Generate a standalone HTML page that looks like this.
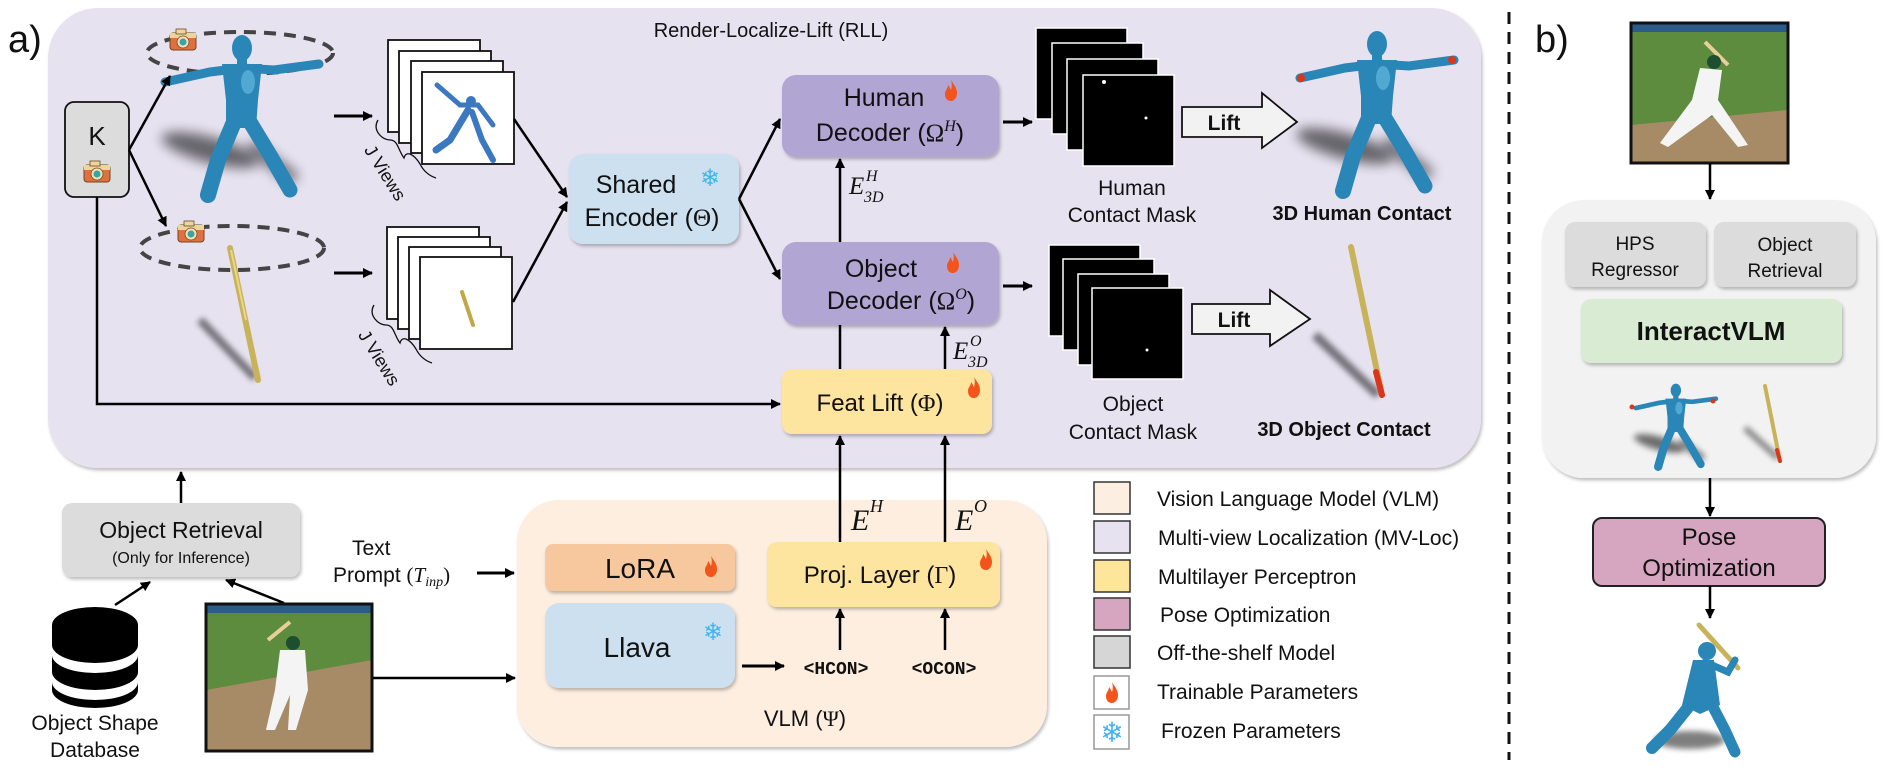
<!DOCTYPE html>
<html><head><meta charset="utf-8"><style>
html,body{margin:0;padding:0;background:#fff;}
svg{display:block;}
text{font-family:"Liberation Sans",sans-serif;fill:#111;}
.m{font-family:"Liberation Serif",serif;font-style:italic;}
.r{font-family:"Liberation Serif",serif;}
</style></head><body>
<svg width="1903" height="770" viewBox="0 0 1903 770" xmlns="http://www.w3.org/2000/svg">
<defs>
<marker id="ah" markerWidth="10" markerHeight="10" refX="9" refY="5" orient="auto" markerUnits="userSpaceOnUse">
<path d="M0,0 L10,5 L0,10 Z" fill="#000"/></marker>
<filter id="sh" x="-10%" y="-10%" width="130%" height="140%"><feDropShadow dx="1.5" dy="2.5" stdDeviation="1.5" flood-color="#000" flood-opacity="0.25"/></filter>
<filter id="blur" x="-50%" y="-50%" width="200%" height="200%"><feGaussianBlur stdDeviation="6"/></filter>
<filter id="blur2" x="-50%" y="-50%" width="200%" height="200%"><feGaussianBlur stdDeviation="3"/></filter>
<g id="cam">
<rect x="-13" y="-7" width="26" height="17" rx="3" fill="#e2703e" stroke="#6b4a2a" stroke-width="1"/>
<rect x="-13" y="-7" width="26" height="5" fill="#f0d49a"/>
<rect x="-7" y="-11" width="10" height="5" fill="#f0d49a" stroke="#6b4a2a" stroke-width="0.8"/>
<circle cx="0" cy="2" r="6" fill="#f3e1b5" stroke="#6b4a2a" stroke-width="0.8"/>
<circle cx="0" cy="2" r="3.5" fill="#3aa3a3"/>
</g>
<path id="flame" d="M6,0 C9,5 12,8 12,13 C12,18 9,21 6,21 C2,21 0,18 0,14 C0,10 3,9 3,5 C5,7 5,9 6,10 C7,7 7,3 6,0 Z" fill="#f2541b"/>
<g id="human">
<ellipse cx="60" cy="120" rx="50" ry="13" fill="#000" opacity="0.55" filter="url(#blur)" transform="rotate(15 60 120)"/>
<path d="M100,115 L145,150" stroke="#000" stroke-width="14" opacity="0.5" filter="url(#blur)"/>
<g stroke="#2a86b6" stroke-linecap="round" fill="none">
<path d="M15,52 L60,42 L92,38 L124,40 L169,34" stroke-width="9"/>
<path d="M84,92 L68,130 L58,165" stroke-width="16"/>
<path d="M100,92 L120,125 L140,160" stroke-width="15"/>
</g>
<path d="M72,34 L112,34 L108,70 L106,98 L76,98 L76,70 Z" fill="#2a86b6"/>
<ellipse cx="92" cy="18" rx="10" ry="13" fill="#2a86b6"/>
<rect x="87" y="26" width="10" height="12" fill="#2a86b6"/>
<ellipse cx="98" cy="52" rx="7" ry="12" fill="#6cc0e4" opacity="0.6"/>
</g>
</defs>

<!-- a) -->
<text x="8" y="52" font-size="38">a)</text>
<rect x="48" y="8" width="1433" height="460" rx="50" fill="#e6e2f0" filter="url(#sh)"/>
<text x="771" y="37" font-size="20" text-anchor="middle">Render-Localize-Lift (RLL)</text>

<rect x="65" y="102" width="64" height="95" rx="9" fill="#dcdcdc" stroke="#111" stroke-width="1.8"/>
<text x="97" y="145" font-size="26" text-anchor="middle">K</text>
<use href="#cam" x="97" y="172"/>

<ellipse cx="240" cy="53" rx="93" ry="21" fill="none" stroke="#444" stroke-width="4" stroke-dasharray="12 8"/>
<use href="#human" x="150" y="30"/>
<use href="#cam" x="183" y="40"/>
<ellipse cx="232" cy="248" rx="92" ry="22" fill="none" stroke="#444" stroke-width="4" stroke-dasharray="12 8"/>
<path d="M200,320 L255,378" stroke="#000" stroke-width="8" opacity="0.5" filter="url(#blur2)"/>
<path d="M230,248 L258,380" stroke="#c9b35a" stroke-width="6" stroke-linecap="round"/>
<path d="M231,250 L246,320" stroke="#e8d78c" stroke-width="2"/>
<use href="#cam" x="191" y="232"/>

<line x1="129" y1="150" x2="170" y2="76" stroke="#000" stroke-width="2.5" marker-end="url(#ah)"/>
<line x1="129" y1="150" x2="166" y2="226" stroke="#000" stroke-width="2.5" marker-end="url(#ah)"/>
<polyline points="97,197 97,404 780,404" fill="none" stroke="#000" stroke-width="2.5" marker-end="url(#ah)"/>

<line x1="334" y1="116" x2="372" y2="116" stroke="#000" stroke-width="3" marker-end="url(#ah)"/>
<line x1="334" y1="273" x2="372" y2="273" stroke="#000" stroke-width="3" marker-end="url(#ah)"/>

<g stroke="#111" stroke-width="1.8" fill="#fff">
<rect x="388" y="40" width="92" height="92"/>
<rect x="399" y="51" width="92" height="92"/>
<rect x="411" y="61" width="92" height="92"/>
<rect x="422" y="72" width="92" height="92"/>
<rect x="387" y="227" width="92" height="92"/>
<rect x="398" y="237" width="92" height="92"/>
<rect x="409" y="247" width="92" height="92"/>
<rect x="420" y="257" width="92" height="92"/>
</g>
<g stroke="#3c78c0" stroke-linecap="round" fill="none">
<path d="M437,85 L460,105 L478,105 L493,125" stroke-width="5"/>
<path d="M468,110 L450,140 L436,150" stroke-width="7"/>
<path d="M472,112 L482,140 L493,160" stroke-width="6"/>
</g>
<circle cx="471" cy="101" r="5" fill="#3c78c0"/>
<path d="M462,292 L473,325" stroke="#c0a84a" stroke-width="4" stroke-linecap="round"/>

<path d="M378,120 C372,130 382,140 390,140 C398,140 398,150 404,158 C406,150 414,154 420,164 C424,172 430,176 436,178" fill="none" stroke="#111" stroke-width="1.3"/>
<text x="380" y="176" font-size="18" transform="rotate(58 380 176)" text-anchor="middle">J Views</text>
<path d="M374,305 C368,315 378,325 386,325 C394,325 394,335 400,343 C402,335 410,339 416,349 C420,357 426,361 432,363" fill="none" stroke="#111" stroke-width="1.3"/>
<text x="374" y="361" font-size="18" transform="rotate(58 374 361)" text-anchor="middle">J Views</text>

<line x1="514" y1="119" x2="567" y2="197" stroke="#000" stroke-width="2.5" marker-end="url(#ah)"/>
<line x1="513" y1="302" x2="567" y2="202" stroke="#000" stroke-width="2.5" marker-end="url(#ah)"/>

<rect x="569" y="154" width="170" height="90" rx="14" fill="#cde0f0" filter="url(#sh)"/>
<text x="636" y="193" font-size="25" text-anchor="middle">Shared</text>
<text x="652" y="226" font-size="25" text-anchor="middle">Encoder (<tspan class="r">Θ</tspan>)</text>
<text x="710" y="186" font-size="24" style="fill:#44b3ee" text-anchor="middle" font-family="DejaVu Sans">❄</text>

<line x1="739" y1="199" x2="780" y2="119" stroke="#000" stroke-width="2.5" marker-end="url(#ah)"/>
<line x1="739" y1="199" x2="780" y2="279" stroke="#000" stroke-width="2.5" marker-end="url(#ah)"/>

<rect x="782" y="75" width="217" height="82" rx="14" fill="#b1a5d4" filter="url(#sh)"/>
<text x="884" y="106" font-size="25" text-anchor="middle">Human</text>
<use href="#flame" x="945" y="80"/>
<text x="890" y="141" font-size="25" text-anchor="middle">Decoder (<tspan class="r">Ω</tspan><tspan class="m" font-size="16" dy="-10">H</tspan><tspan dy="10">)</tspan></text>
<rect x="782" y="242" width="217" height="83" rx="14" fill="#b1a5d4" filter="url(#sh)"/>
<text x="881" y="277" font-size="25" text-anchor="middle">Object</text>
<use href="#flame" x="947" y="252"/>
<text x="901" y="309" font-size="25" text-anchor="middle">Decoder (<tspan class="r">Ω</tspan><tspan class="m" font-size="16" dy="-10">O</tspan><tspan dy="10">)</tspan></text>

<line x1="840" y1="242" x2="840" y2="159" stroke="#000" stroke-width="2.5" marker-end="url(#ah)"/>
<text x="849" y="194" font-size="25" class="m">E</text><text x="866" y="181" font-size="16" class="m">H</text><text x="864" y="202" font-size="16" class="m">3D</text>
<line x1="840" y1="369" x2="840" y2="325" stroke="#000" stroke-width="2.5"/>
<line x1="945" y1="369" x2="945" y2="327" stroke="#000" stroke-width="2.5" marker-end="url(#ah)"/>
<text x="953" y="359" font-size="25" class="m">E</text><text x="970" y="346" font-size="16" class="m">O</text><text x="968" y="367" font-size="16" class="m">3D</text>

<rect x="782" y="369" width="210" height="65" rx="10" fill="#fde59f" filter="url(#sh)"/>
<text x="880" y="411" font-size="24" text-anchor="middle">Feat Lift (<tspan class="r">Φ</tspan>)</text>
<use href="#flame" x="968" y="377"/>

<line x1="1003" y1="122" x2="1032" y2="122" stroke="#000" stroke-width="3" marker-end="url(#ah)"/>
<line x1="1003" y1="286" x2="1032" y2="286" stroke="#000" stroke-width="3" marker-end="url(#ah)"/>

<g stroke="#fff" stroke-width="1.5" fill="#000">
<rect x="1036" y="28" width="91" height="91"/>
<rect x="1052" y="43" width="91" height="91"/>
<rect x="1067" y="59" width="91" height="91"/>
<rect x="1083" y="75" width="91" height="91"/>
<rect x="1049" y="245" width="91" height="91"/>
<rect x="1063" y="259" width="91" height="91"/>
<rect x="1078" y="274" width="91" height="91"/>
<rect x="1092" y="288" width="91" height="91"/>
</g>
<circle cx="1104" cy="82" r="2" fill="#fff"/><circle cx="1146" cy="118" r="1.5" fill="#fff"/>
<circle cx="1147" cy="350" r="1.5" fill="#fff"/>

<text x="1132" y="195" font-size="21" text-anchor="middle">Human</text>
<text x="1132" y="222" font-size="21" text-anchor="middle">Contact Mask</text>
<text x="1133" y="411" font-size="21" text-anchor="middle">Object</text>
<text x="1133" y="439" font-size="21" text-anchor="middle">Contact Mask</text>

<path d="M1182,107 L1262,107 L1262,93 L1297,122 L1262,148 L1262,137 L1182,137 Z" fill="#f2f2f2" stroke="#111" stroke-width="1.8"/>
<text x="1224" y="130" font-size="21" font-weight="bold" text-anchor="middle">Lift</text>
<path d="M1192,304 L1270,304 L1270,290 L1310,319 L1270,346 L1270,334 L1192,334 Z" fill="#f2f2f2" stroke="#111" stroke-width="1.8"/>
<text x="1234" y="327" font-size="21" font-weight="bold" text-anchor="middle">Lift</text>

<use href="#human" x="1285" y="26"/>
<circle cx="1301" cy="78" r="4" fill="#d9361c"/><circle cx="1452" cy="60" r="4" fill="#d9361c"/>
<text x="1362" y="220" font-size="20" font-weight="bold" text-anchor="middle">3D Human Contact</text>
<path d="M1315,335 L1378,395" stroke="#000" stroke-width="9" opacity="0.5" filter="url(#blur2)"/>
<path d="M1351,247 L1382,395" stroke="#c9b35a" stroke-width="6" stroke-linecap="round"/>
<path d="M1376,372 L1382,395" stroke="#d9361c" stroke-width="6" stroke-linecap="round"/>
<text x="1344" y="436" font-size="20" font-weight="bold" text-anchor="middle">3D Object Contact</text>

<line x1="181" y1="503" x2="181" y2="472" stroke="#000" stroke-width="2.5" marker-end="url(#ah)"/>
<rect x="62" y="503" width="238" height="74" rx="10" fill="#dcdcdc" filter="url(#sh)"/>
<text x="181" y="538" font-size="23" text-anchor="middle">Object Retrieval</text>
<text x="181" y="563" font-size="16" text-anchor="middle">(Only for Inference)</text>
<line x1="115" y1="605" x2="150" y2="582" stroke="#000" stroke-width="2.5" marker-end="url(#ah)"/>
<line x1="284" y1="603" x2="226" y2="580" stroke="#000" stroke-width="2.5" marker-end="url(#ah)"/>

<g fill="#000">
<path d="M52,625 A43,18 0 0 1 138,625 L138,645 A43,18 0 0 1 52,645 Z"/>
<path d="M52,655 A43,18 0 0 0 138,655 L138,672 A43,18 0 0 1 52,672 Z"/>
<path d="M52,682 A43,18 0 0 0 138,682 L138,690 A43,18 0 0 1 52,690 Z"/>
</g>
<text x="95" y="730" font-size="21" text-anchor="middle">Object Shape</text>
<text x="95" y="757" font-size="21" text-anchor="middle">Database</text>

<g>
<rect x="206" y="604" width="166" height="147" fill="#5d8c3e"/>
<rect x="206" y="604" width="166" height="9" fill="#2b5c8a"/>
<path d="M206,690 L372,660 L372,751 L206,751 Z" fill="#a78b66"/>
<path d="M268,640 L290,622" stroke="#e8cf9a" stroke-width="4"/>
<circle cx="293" cy="643" r="7" fill="#1f4d30"/>
<path d="M280,650 L305,650 L308,690 L296,730 L288,730 L290,695 L275,730 L266,730 L275,690 Z" fill="#f4f4f4"/>
<rect x="206" y="604" width="166" height="147" fill="none" stroke="#111" stroke-width="3"/>
</g>
<line x1="373" y1="678" x2="515" y2="678" stroke="#000" stroke-width="2.5" marker-end="url(#ah)"/>

<text x="352" y="555" font-size="21">Text</text>
<text x="333" y="582" font-size="21">Prompt <tspan class="r">(</tspan><tspan class="m">T</tspan><tspan class="m" font-size="14" dy="4">inp</tspan><tspan class="r" dy="-4">)</tspan></text>
<line x1="477" y1="573" x2="514" y2="573" stroke="#000" stroke-width="3" marker-end="url(#ah)"/>

<rect x="517" y="500" width="530" height="247" rx="42" fill="#fdeee0" filter="url(#sh)"/>
<rect x="545" y="544" width="190" height="47" rx="8" fill="#f7c89d" filter="url(#sh)"/>
<text x="640" y="578" font-size="28" text-anchor="middle">LoRA</text>
<use href="#flame" x="705" y="556"/>
<rect x="545" y="603" width="190" height="85" rx="14" fill="#cde0f0" filter="url(#sh)"/>
<text x="637" y="657" font-size="28" text-anchor="middle">Llava</text>
<text x="713" y="640" font-size="24" style="fill:#44b3ee" text-anchor="middle" font-family="DejaVu Sans">❄</text>
<line x1="742" y1="666" x2="784" y2="666" stroke="#000" stroke-width="3" marker-end="url(#ah)"/>
<text x="836" y="674" font-size="18" font-weight="bold" text-anchor="middle" style="font-family:'Liberation Mono',monospace">&lt;HCON&gt;</text>
<text x="944" y="674" font-size="18" font-weight="bold" text-anchor="middle" style="font-family:'Liberation Mono',monospace">&lt;OCON&gt;</text>
<line x1="840" y1="650" x2="840" y2="609" stroke="#000" stroke-width="2.5" marker-end="url(#ah)"/>
<line x1="945" y1="650" x2="945" y2="609" stroke="#000" stroke-width="2.5" marker-end="url(#ah)"/>
<rect x="767" y="542" width="233" height="65" rx="10" fill="#fde59f" filter="url(#sh)"/>
<text x="880" y="583" font-size="24" text-anchor="middle">Proj. Layer (<tspan class="r">Γ</tspan>)</text>
<use href="#flame" x="980" y="549"/>
<line x1="840" y1="542" x2="840" y2="436" stroke="#000" stroke-width="2.5" marker-end="url(#ah)"/>
<line x1="945" y1="542" x2="945" y2="436" stroke="#000" stroke-width="2.5" marker-end="url(#ah)"/>
<text x="851" y="530" font-size="30" class="m">E</text><text x="870" y="512" font-size="18" class="m">H</text>
<text x="955" y="530" font-size="30" class="m">E</text><text x="974" y="512" font-size="18" class="m">O</text>
<text x="805" y="726" font-size="22" text-anchor="middle">VLM (<tspan class="r">Ψ</tspan>)</text>

<g stroke="#333" stroke-width="1.5">
<rect x="1094" y="482" width="36" height="32" fill="#fdeee2"/>
<rect x="1094" y="521" width="36" height="32" fill="#e6e2f0"/>
<rect x="1094" y="560" width="36" height="32" fill="#fde59a"/>
<rect x="1094" y="598" width="36" height="32" fill="#d6a6c0"/>
<rect x="1094" y="636" width="36" height="32" fill="#d6d6d6"/>
<rect x="1094" y="676" width="35" height="33" fill="#fff" stroke="#999"/>
<rect x="1094" y="715" width="35" height="34" fill="#fff" stroke="#999"/>
</g>
<use href="#flame" x="1106" y="682"/>
<text x="1112" y="742" font-size="28" style="fill:#44b3ee" text-anchor="middle" font-family="DejaVu Sans">❄</text>
<g font-size="21">
<text x="1157" y="506">Vision Language Model (VLM)</text>
<text x="1158" y="545">Multi-view Localization (MV-Loc)</text>
<text x="1158" y="584">Multilayer Perceptron</text>
<text x="1160" y="622">Pose Optimization</text>
<text x="1157" y="660">Off-the-shelf Model</text>
<text x="1157" y="699">Trainable Parameters</text>
<text x="1161" y="738">Frozen Parameters</text>
</g>

<line x1="1509" y1="12" x2="1509" y2="760" stroke="#111" stroke-width="3" stroke-dasharray="12 8"/>

<text x="1535" y="52" font-size="38">b)</text>
<g>
<rect x="1631" y="23" width="157" height="140" fill="#5d8c3e"/>
<rect x="1631" y="23" width="157" height="9" fill="#2b5c8a"/>
<path d="M1631,125 L1788,110 L1788,163 L1631,163 Z" fill="#a78b66"/>
<path d="M1705,42 L1728,65" stroke="#e8cf9a" stroke-width="4"/>
<circle cx="1714" cy="62" r="7" fill="#1f4d30"/>
<path d="M1700,68 L1722,70 L1718,100 L1748,145 L1738,147 L1712,115 L1668,147 L1660,143 L1692,100 Z" fill="#f4f4f4"/>
<rect x="1631" y="23" width="157" height="140" fill="none" stroke="#111" stroke-width="3"/>
</g>
<line x1="1710" y1="163" x2="1710" y2="199" stroke="#000" stroke-width="2.5" marker-end="url(#ah)"/>
<rect x="1542" y="200" width="334" height="278" rx="42" fill="#f2f2f2" filter="url(#sh)"/>
<rect x="1565" y="222" width="141" height="65" rx="10" fill="#dcdcdc" filter="url(#sh)"/>
<text x="1635" y="250" font-size="19" text-anchor="middle">HPS</text>
<text x="1635" y="276" font-size="19" text-anchor="middle">Regressor</text>
<rect x="1714" y="222" width="142" height="65" rx="10" fill="#dcdcdc" filter="url(#sh)"/>
<text x="1785" y="251" font-size="19" text-anchor="middle">Object</text>
<text x="1785" y="277" font-size="19" text-anchor="middle">Retrieval</text>
<rect x="1581" y="299" width="261" height="64" rx="10" fill="#d9ebd3" filter="url(#sh)"/>
<text x="1711" y="340" font-size="26" font-weight="bold" text-anchor="middle">InteractVLM</text>
<g transform="translate(1628,381) scale(0.52)"><use href="#human"/></g>
<circle cx="1632" cy="407" r="2.5" fill="#d9361c"/><circle cx="1713" cy="401" r="2.5" fill="#d9361c"/>
<path d="M1745,428 L1778,458" stroke="#000" stroke-width="6" opacity="0.45" filter="url(#blur2)"/>
<path d="M1765,386 L1780,461" stroke="#c9b35a" stroke-width="4" stroke-linecap="round"/>
<path d="M1777,450 L1780,461" stroke="#d9361c" stroke-width="4" stroke-linecap="round"/>
<line x1="1710" y1="478" x2="1710" y2="516" stroke="#000" stroke-width="2.5" marker-end="url(#ah)"/>
<rect x="1593" y="518" width="232" height="68" rx="9" fill="#d6a6c0" stroke="#222" stroke-width="2"/>
<text x="1709" y="545" font-size="24" text-anchor="middle">Pose</text>
<text x="1709" y="576" font-size="24" text-anchor="middle">Optimization</text>
<line x1="1710" y1="586" x2="1710" y2="618" stroke="#000" stroke-width="2.5" marker-end="url(#ah)"/>
<g>
<ellipse cx="1690" cy="740" rx="35" ry="9" fill="#000" opacity="0.5" filter="url(#blur2)"/>
<path d="M1699,625 L1738,668" stroke="#c9b35a" stroke-width="5" stroke-linecap="round"/>
<circle cx="1707" cy="651" r="9" fill="#2a86b6"/>
<path d="M1693,660 L1714,660 L1720,705 L1700,714 L1682,705 Z" fill="#2a86b6"/>
<path d="M1705,662 L1728,672 L1735,660" stroke="#2a86b6" stroke-width="7" fill="none" stroke-linecap="round"/>
<path d="M1690,705 L1670,730 L1652,748" stroke="#2a86b6" stroke-width="12" fill="none" stroke-linecap="round"/>
<path d="M1712,705 L1725,730 L1735,752" stroke="#2a86b6" stroke-width="11" fill="none" stroke-linecap="round"/>
</g>
</svg>
</body></html>
